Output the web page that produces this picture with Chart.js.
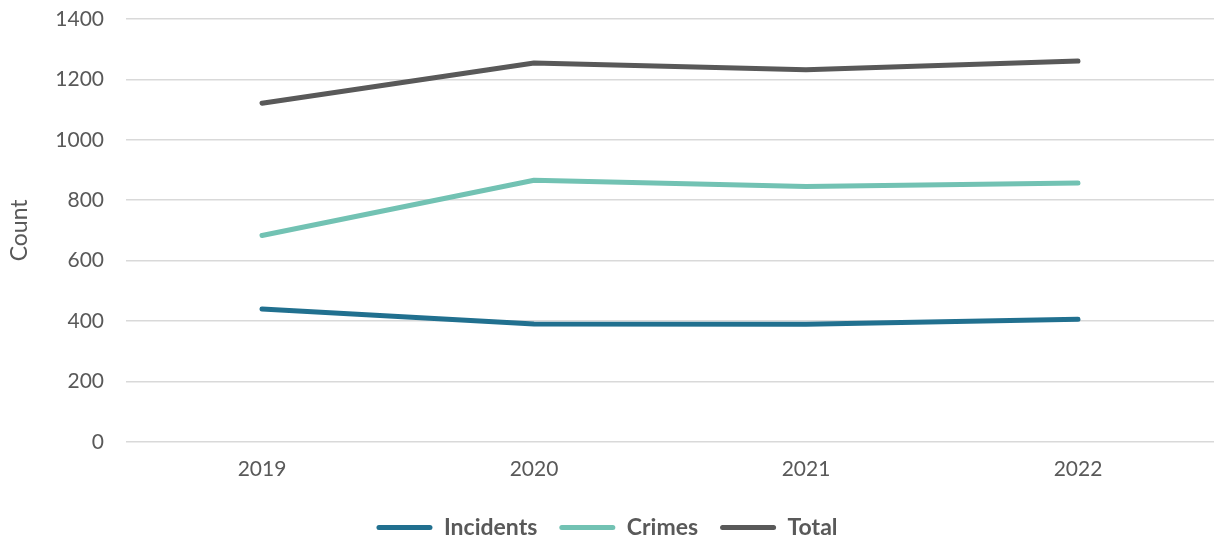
<!DOCTYPE html>
<html>
<head>
<meta charset="utf-8">
<script src="https://cdn.jsdelivr.net/npm/chart.js@4/dist/chart.umd.min.js"></script>
<style>
  html, body { margin: 0; padding: 0; background: #fff; }
  #myChart { display: block; }
</style>
</head>
<body>
<canvas id="myChart" width="1218" height="541"></canvas>
<script>
const years = ['2019', '2020', '2021', '2022'];
const incidents = [440, 390, 389, 406];
const crimes = [683, 866, 845, 857];
const total = [1121, 1254, 1232, 1261];
const yTicks = [0, 200, 400, 600, 800, 1000, 1200, 1400];

const grey = '#595959';

function initChart(chart) {
  const data = {
    labels: years,
    datasets: [
      { label: 'Incidents', data: incidents, borderColor: '#21708f', backgroundColor: '#21708f' },
      { label: 'Crimes', data: crimes, borderColor: '#72c2b3', backgroundColor: '#72c2b3' },
      { label: 'Total', data: total, borderColor: '#595959', backgroundColor: '#595959' }
    ]
  };

  const config = {
    type: 'line',
    data: data,
    options: {
      responsive: false,
      animation: false,
      layout: { padding: { top: 19, right: 4, left: 0, bottom: -8 } },
      elements: {
        line: { borderWidth: 5, borderCapStyle: 'round', borderJoinStyle: 'round', tension: 0 },
        point: { radius: 0, hoverRadius: 0 }
      },
      plugins: {
        tooltip: { enabled: false },
        legend: {
          position: 'bottom',
          labels: {
            boxWidth: 56,
            boxHeight: 5,
            useBorderRadius: true,
            borderRadius: 2.5,
            padding: 22,
            color: grey,
            font: { family: 'Lato', size: 23, weight: 'bold' },
            generateLabels: (c) => Chart.defaults.plugins.legend.labels.generateLabels(c).map(l => ({ ...l, lineWidth: 0 }))
          }
        }
      },
      scales: {
        x: {
          offset: true,
          afterFit: (s) => { s.height += 5; },
          grid: { display: false },
          border: { display: false },
          ticks: { color: grey, font: { family: 'Lato', size: 21 }, padding: 7 }
        },
        y: {
          min: 0,
          max: 1400,
          afterBuildTicks: (s) => { s.ticks = yTicks.map(v => ({ value: v })); },
          afterFit: (s) => { s.width = 126; },
          // tick marks hidden, their length only spaces the labels from the plot
          grid: { color: '#d9d9d9', lineWidth: 1.5, drawTicks: true, tickLength: 22, tickColor: 'rgba(0,0,0,0)' },
          border: { display: false },
          title: { display: true, text: 'Count', color: grey, font: { family: 'Lato', size: 23 }, padding: { top: 6, bottom: 0 } },
          ticks: { color: grey, font: { family: 'Lato', size: 21 }, padding: 0, callback: (v) => String(v) }
        }
      }
    }
  };

  return new Chart(chart, config);
}

initChart(document.querySelector('#myChart'));
</script>
</body>
</html>
